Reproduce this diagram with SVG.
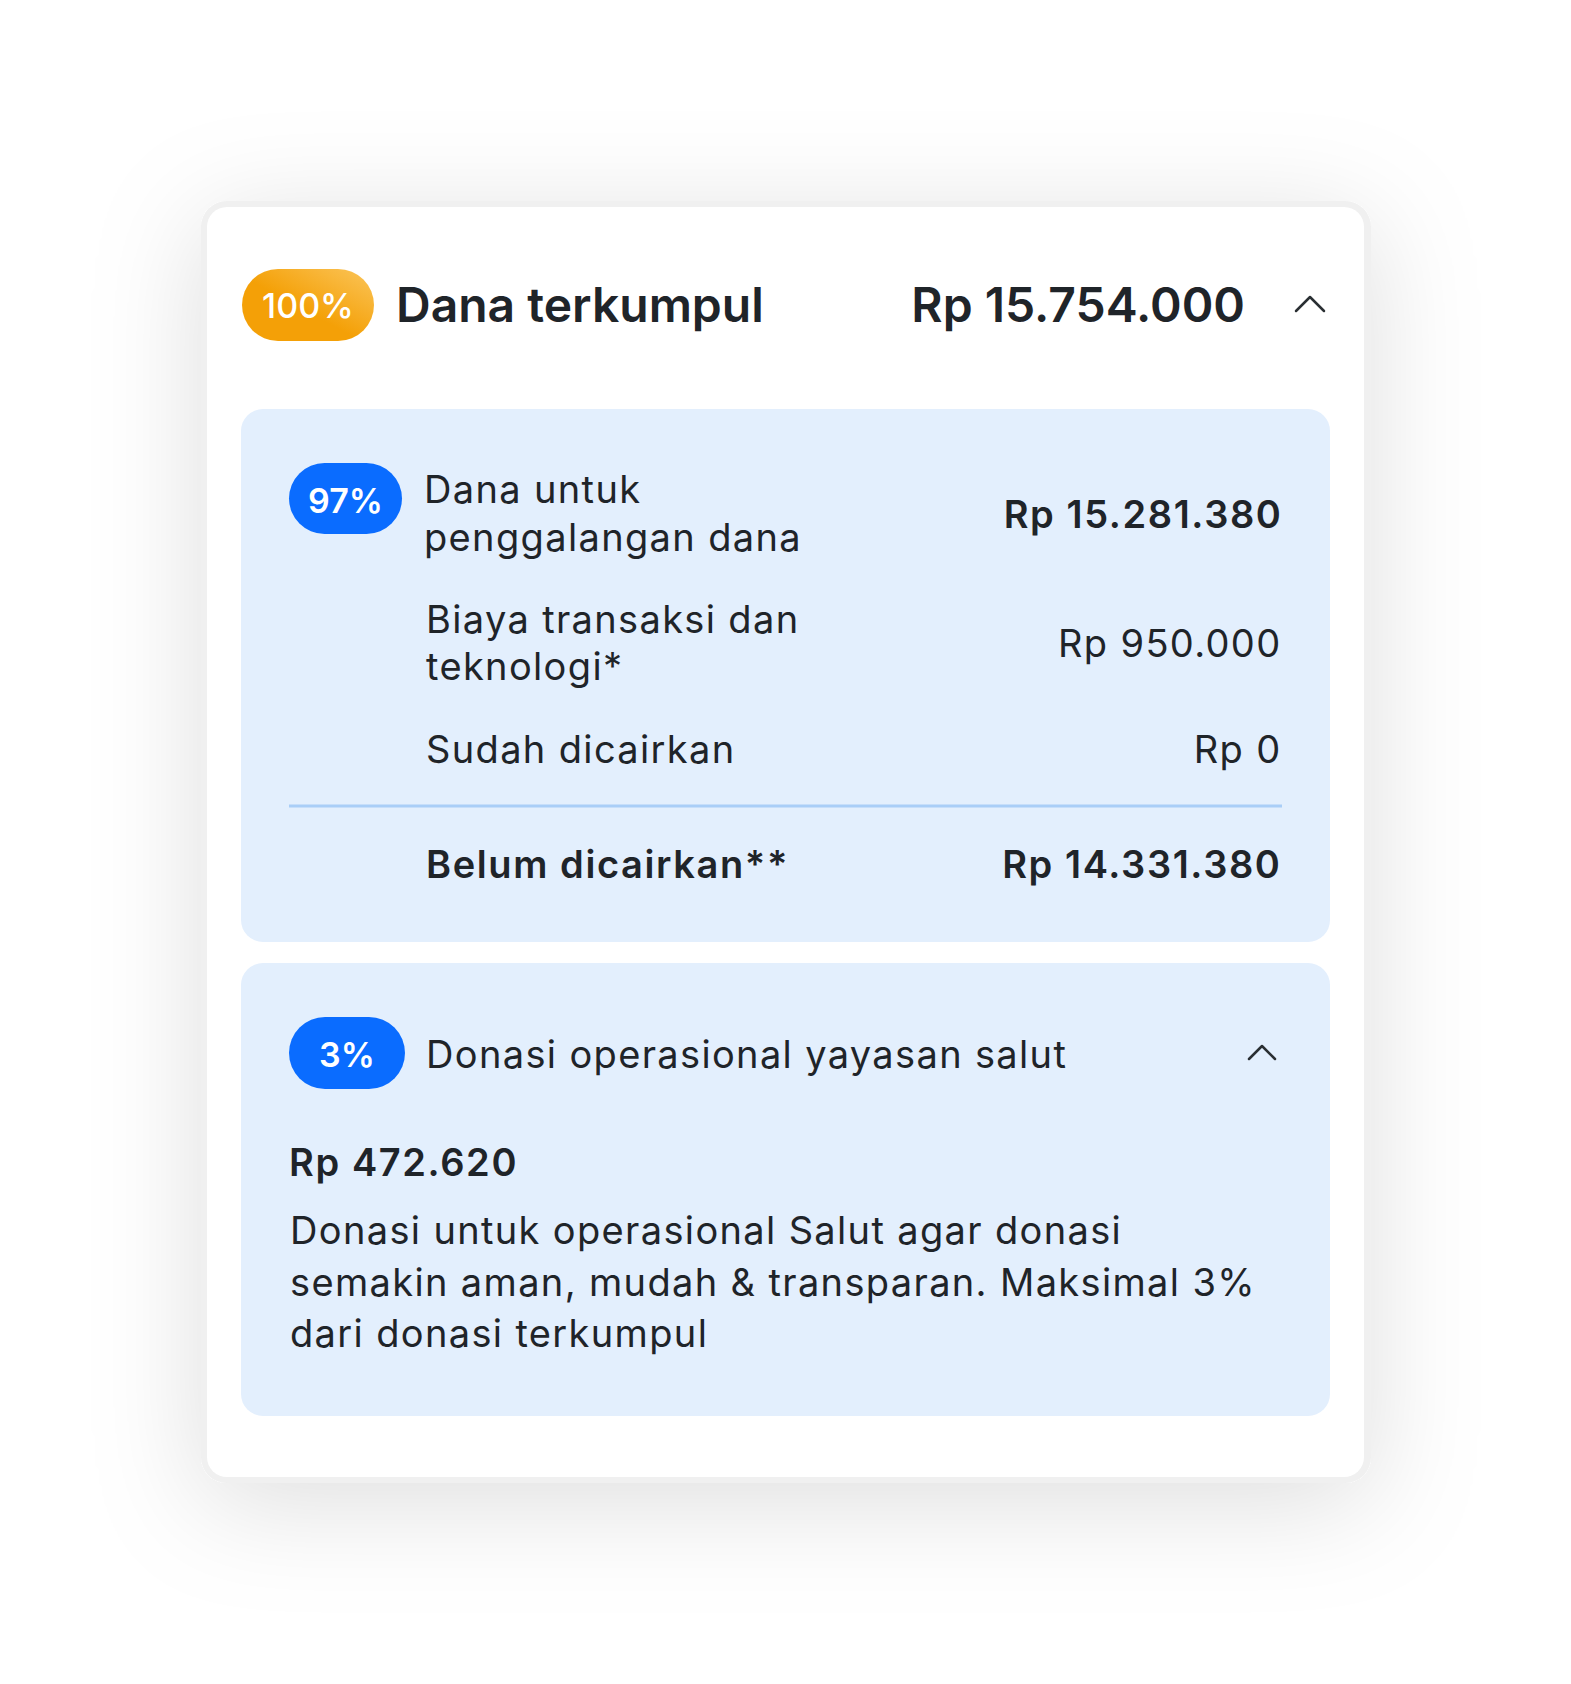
<svg xmlns="http://www.w3.org/2000/svg" width="1571" height="1684" viewBox="0 0 1571 1684">
<style>
text{font-family:Inter,"Noto Sans","Liberation Sans",sans-serif;fill:#1F2429}
.reg{font-size:38px;font-weight:400;letter-spacing:1.35px}
.bold{font-size:38px;font-weight:600;letter-spacing:1.6px}
.title{font-size:48px;font-weight:600}
.badge{font-size:34px;font-weight:600;fill:#FFFFFF;text-anchor:middle}
.end{text-anchor:end}
.panel{fill:#E3EFFD}
.blue{fill:#0A6CFF}
.chev{fill:none;stroke:#2A2F33;stroke-width:2.5;stroke-linecap:round;stroke-linejoin:round}
</style>
<defs>
<filter id="shadow" x="-30%" y="-30%" width="160%" height="160%">
<feDropShadow dx="0" dy="20" stdDeviation="55" flood-color="#000000" flood-opacity="0.13"/>
</filter>
<linearGradient id="orange" x1="0" y1="1" x2="1" y2="0">
<stop offset="0.45" stop-color="#F4A007"/>
<stop offset="1" stop-color="#FBC55A"/>
</linearGradient>
</defs>
<rect width="1571" height="1684" fill="#FFFFFF"/>
<g id="card">
<rect x="201" y="201" width="1170" height="1282" rx="26" fill="#F0F0F0" filter="url(#shadow)"/>
<rect x="207" y="207" width="1157" height="1270" rx="20" fill="#FFFFFF"/>
</g>
<g id="header">
<rect x="242" y="269" width="132" height="72" rx="36" fill="url(#orange)"/>
<text class="badge" x="308" y="318" style="font-weight:500">100%</text>
<text class="title" x="396" y="322">Dana terkumpul</text>
<text class="title end" x="1245" y="322">Rp 15.754.000</text>
<polyline class="chev" points="1296,311 1310,297 1324,311"/>
</g>
<g id="panel-fundraising">
<rect class="panel" x="241" y="409" width="1089" height="533" rx="22"/>
<rect class="blue" x="289" y="463" width="113" height="71" rx="35.5"/>
<text class="badge" x="345.5" y="512.5">97%</text>
<text class="reg" x="424" y="503">Dana untuk</text>
<text class="reg" x="424" y="551">penggalangan dana</text>
<text class="bold end" x="1282.5" y="528">Rp 15.281.380</text>
<text class="reg" x="426" y="633">Biaya transaksi dan</text>
<text class="reg" x="426" y="680">teknologi*</text>
<text class="reg end" x="1281.5" y="657">Rp 950.000</text>
<text class="reg" x="426" y="763">Sudah dicairkan</text>
<text class="reg end" x="1281.5" y="763">Rp 0</text>
<line x1="289" y1="806" x2="1282" y2="806" stroke="#A9CEF7" stroke-width="3"/>
<text class="bold" x="426" y="878">Belum dicairkan**</text>
<text class="bold end" x="1281.5" y="878">Rp 14.331.380</text>
</g>
<g id="panel-operational">
<rect class="panel" x="241" y="963" width="1089" height="453" rx="22"/>
<rect class="blue" x="289" y="1017" width="116" height="72" rx="36"/>
<text class="badge" x="347" y="1067">3%</text>
<text class="reg" x="426" y="1068">Donasi operasional yayasan salut</text>
<polyline class="chev" points="1249,1059 1262,1046 1275,1059"/>
<text class="bold" x="289" y="1176">Rp 472.620</text>
<text class="reg" x="290" y="1244">Donasi untuk operasional Salut agar donasi</text>
<text class="reg" x="290" y="1296">semakin aman, mudah &amp; transparan. Maksimal 3%</text>
<text class="reg" x="290" y="1347">dari donasi terkumpul</text>
</g>
</svg>
